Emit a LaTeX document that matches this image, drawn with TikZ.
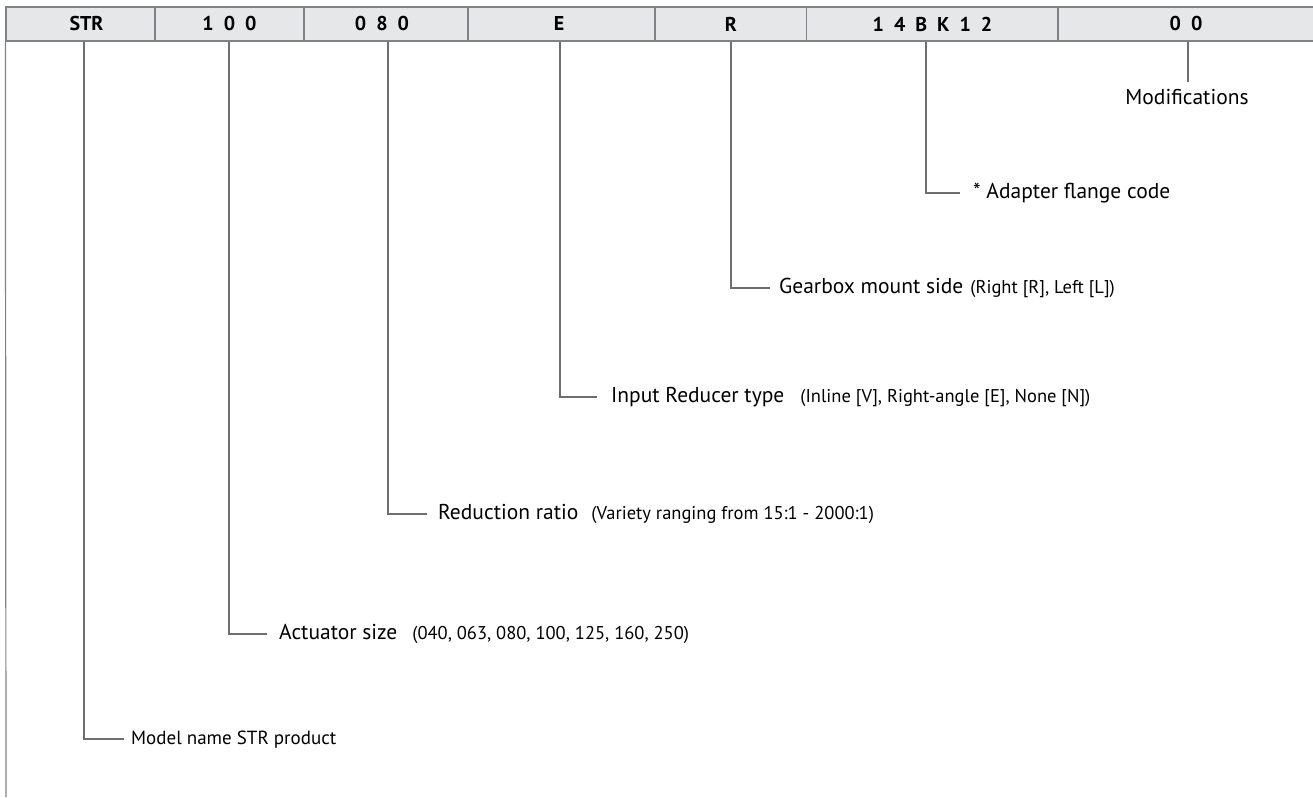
\documentclass[tikz,border=0pt]{standalone}
\usepackage{fontspec}
\setmainfont{PT Sans}
\definecolor{hdrfill}{HTML}{E6E7E8}
\definecolor{hdrline}{HTML}{808285}
\definecolor{conline}{HTML}{6D6E71}
\newcommand{\gapsp}{\hspace{0.5em}}
\begin{document}
\begin{tikzpicture}[x=1pt,y=-1pt,
  cell/.style={draw=hdrline, fill=hdrfill, line width=1.2pt, minimum height=34pt, inner sep=0pt, anchor=center, font=\fontsize{20}{20}\selectfont\bfseries},
  conn/.style={draw=conline, line width=1.1pt},
  lbl/.style={anchor=base west, inner sep=0pt, font=\fontsize{21.5}{21.5}\selectfont},
  small/.style={anchor=base west, inner sep=0pt, font=\fontsize{19}{19}\selectfont}
]
\useasboundingbox (0,0) rectangle (1313,797);
\newcommand{\pfont}{\fontsize{18.5}{18.5}\selectfont}
% header cells
\node[cell, minimum width=149pt] (c1) at (80.5,24) {\hspace*{12pt}STR};
\node[cell, minimum width=149pt] (c2) at (229.5,24) {1\gapsp0\gapsp0};
\node[cell, minimum width=164pt] (c3) at (386,24) {0\gapsp8\gapsp0\hspace*{8pt}};
\node[cell, minimum width=187pt] (c4) at (561.5,24) {E\hspace*{5pt}};
\node[cell, minimum width=152pt] (c5) at (731,24) {R};
\node[cell, minimum width=252pt] (c6) at (932.5,24) {1\gapsp4\gapsp B\gapsp K\gapsp1\gapsp2};
\node[cell, minimum width=262pt] (c7) at (1189,24) {0\gapsp0\hspace*{6pt}};
% left border continuing down
\coordinate (lb) at (6,797);
\draw[draw=hdrline, line width=1.2pt] (c1.south west) -- (lb);
% labels
\node[small] (l1) at (131,744) {Model name STR product};
\node[lbl] (l2) at (279,639) {Actuator size\hspace{15pt}{\pfont (040, 063, 080, 100, 125, 160, 250)}};
\node[lbl] (l3) at (438,519) {Reduction ratio\hspace{13pt}{\pfont (Variety ranging from 15:1 - 2000:1)}};
\node[lbl] (l4) at (611,402) {Input Reducer type\hspace{16pt}{\pfont (Inline [V], Right-angle [E], None [N])}};
\node[lbl] (l5) at (779,293) {Gearbox mount side\hspace{7pt}{\pfont (Right [R], Left [L])}};
\node[lbl] (l6) at (973,198) {* Adapter flange code};
\node[lbl, anchor=base] (l7) at (1187,105) {Modifications};
% connectors
\draw[conn] ([xshift=3.5pt]c1.south) |- ([xshift=-7pt,yshift=5pt]l1.base west);
\draw[conn] ([xshift=-0.5pt]c2.south) |- ([xshift=-12pt,yshift=5pt]l2.base west);
\draw[conn] ([xshift=2pt]c3.south) |- ([xshift=-11pt,yshift=5pt]l3.base west);
\draw[conn] ([xshift=-1.5pt]c4.south) |- ([xshift=-14pt,yshift=5pt]l4.base west);
\draw[conn] (c5.south) |- ([xshift=-9pt,yshift=5pt]l5.base west);
\draw[conn] ([xshift=-6.5pt]c6.south) |- ([xshift=-13pt,yshift=5pt]l6.base west);
\draw[conn] ([xshift=-1pt]c7.south) -- ([xshift=1pt,yshift=23pt]l7.base);
\end{tikzpicture}
\end{document}
